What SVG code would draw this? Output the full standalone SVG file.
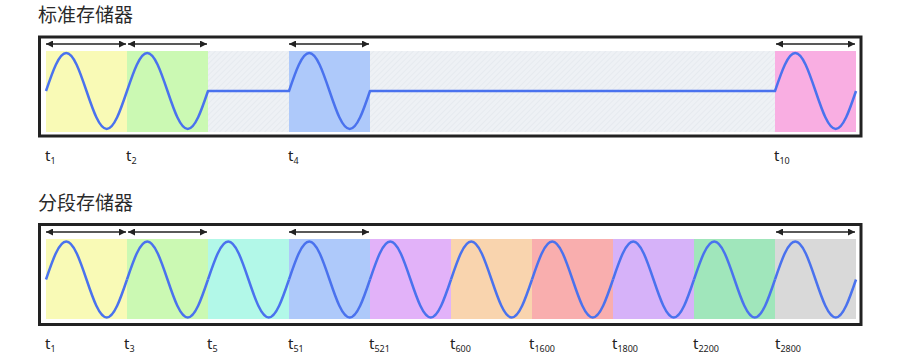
<svg xmlns="http://www.w3.org/2000/svg" width="897" height="359" viewBox="0 0 897 359">
<defs>
<pattern id="hatch" width="4" height="4" patternUnits="userSpaceOnUse" patternTransform="rotate(45)">
<rect width="4" height="4" fill="#eef1f5"/>
<line x1="0" y1="0" x2="0" y2="4" stroke="#e2e6ec" stroke-width="1.2"/>
</pattern>
<marker id="ah" viewBox="0 0 10 10" refX="10" refY="5" markerWidth="7" markerHeight="7" markerUnits="userSpaceOnUse" orient="auto-start-reverse">
<path d="M0,0 L10,5 L0,10 Z" fill="#222"/>
</marker>
<path id="per" d="M0,0 c6.604,-19.47 12.922,-38 20.25,-38 c7.328,0 13.646,18.53 20.25,38 c6.604,19.47 12.922,38 20.25,38 c7.328,0 13.646,-18.53 20.25,-38"/>
</defs>
<style>
.title{font-family:"Noto Sans CJK SC","Noto Sans",sans-serif;font-size:19px;fill:#2a2a2a}
.lbl{font-family:"Noto Sans","Open Sans",sans-serif;font-size:15px;fill:#222}
.sub{font-size:9px}
.frame{fill:none;stroke:#222;stroke-width:3}
.wave{fill:none;stroke:#4a72ee;stroke-width:2.5;stroke-linejoin:round}
.arr{stroke:#222;stroke-width:1.3;marker-start:url(#ah);marker-end:url(#ah)}
</style>

<g id="standard">
<text class="title" x="38" y="22">标准存储器</text>
<rect class="frame" x="39.5" y="37" width="821.5" height="99"/>
<g id="std-segments">
<rect x="46" y="51" width="81" height="81" fill="#f9fab6"/>
<rect x="127" y="51" width="81" height="81" fill="#cbf9b3"/>
<rect x="208" y="51" width="81" height="81" fill="url(#hatch)"/>
<rect x="289" y="51" width="81" height="81" fill="#aec9fa"/>
<rect x="370" y="51" width="405" height="81" fill="url(#hatch)"/>
<rect x="775" y="51" width="81" height="81" fill="#f9aee2"/>
</g>
<path class="wave" d="M46,91 c6.604,-19.47 12.922,-38 20.25,-38 c7.328,0 13.646,18.53 20.25,38 c6.604,19.47 12.922,38 20.25,38 c7.328,0 13.646,-18.53 20.25,-38 c6.604,-19.47 12.922,-38 20.25,-38 c7.328,0 13.646,18.53 20.25,38 c6.604,19.47 12.922,38 20.25,38 c7.328,0 13.646,-18.53 20.25,-38 L289,91 c6.604,-19.47 12.922,-38 20.25,-38 c7.328,0 13.646,18.53 20.25,38 c6.604,19.47 12.922,38 20.25,38 c7.328,0 13.646,-18.53 20.25,-38 L775,91 c6.604,-19.47 12.922,-38 20.25,-38 c7.328,0 13.646,18.53 20.25,38 c6.604,19.47 12.922,38 20.25,38 c7.328,0 13.646,-18.53 20.25,-38"/>
<g id="std-labels">
<text class="lbl" x="45" y="161">t<tspan class="sub" dy="3">1</tspan></text>
<text class="lbl" x="126" y="161">t<tspan class="sub" dy="3">2</tspan></text>
<text class="lbl" x="288" y="161">t<tspan class="sub" dy="3">4</tspan></text>
<text class="lbl" x="774" y="161">t<tspan class="sub" dy="3">10</tspan></text>
</g>
</g>

<g id="segmented">
<text class="title" x="38" y="210">分段存储器</text>
<rect class="frame" x="39.5" y="224.5" width="821.5" height="100"/>
<g id="seg-segments">
<rect x="46" y="239" width="81" height="80" fill="#f9fab6"/>
<rect x="127" y="239" width="81" height="80" fill="#cbf9b3"/>
<rect x="208" y="239" width="81" height="80" fill="#b2f8e8"/>
<rect x="289" y="239" width="81" height="80" fill="#aec9fa"/>
<rect x="370" y="239" width="81" height="80" fill="#e2b2f9"/>
<rect x="451" y="239" width="81" height="80" fill="#f9d4ae"/>
<rect x="532" y="239" width="81" height="80" fill="#f9aeae"/>
<rect x="613" y="239" width="81" height="80" fill="#d6b2f9"/>
<rect x="694" y="239" width="81" height="80" fill="#a0e6bb"/>
<rect x="775" y="239" width="81" height="80" fill="#d9d9d9"/>
</g>
<g class="wave">
<use href="#per" x="46" y="279.5"/>
<use href="#per" x="127" y="279.5"/>
<use href="#per" x="208" y="279.5"/>
<use href="#per" x="289" y="279.5"/>
<use href="#per" x="370" y="279.5"/>
<use href="#per" x="451" y="279.5"/>
<use href="#per" x="532" y="279.5"/>
<use href="#per" x="613" y="279.5"/>
<use href="#per" x="694" y="279.5"/>
<use href="#per" x="775" y="279.5"/>
</g>
<g id="seg-labels">
<text class="lbl" x="45" y="349">t<tspan class="sub" dy="3">1</tspan></text>
<text class="lbl" x="124" y="349">t<tspan class="sub" dy="3">3</tspan></text>
<text class="lbl" x="207" y="349">t<tspan class="sub" dy="3">5</tspan></text>
<text class="lbl" x="288" y="349">t<tspan class="sub" dy="3">51</tspan></text>
<text class="lbl" x="369" y="349">t<tspan class="sub" dy="3">521</tspan></text>
<text class="lbl" x="450" y="349">t<tspan class="sub" dy="3">600</tspan></text>
<text class="lbl" x="529" y="349">t<tspan class="sub" dy="3">1600</tspan></text>
<text class="lbl" x="612" y="349">t<tspan class="sub" dy="3">1800</tspan></text>
<text class="lbl" x="693" y="349">t<tspan class="sub" dy="3">2200</tspan></text>
<text class="lbl" x="775" y="349">t<tspan class="sub" dy="3">2800</tspan></text>
</g>
</g>

<g id="connectors">
<line class="arr" x1="46" y1="44" x2="126" y2="44"/>
<line class="arr" x1="128" y1="44" x2="207" y2="44"/>
<line class="arr" x1="289" y1="44" x2="369" y2="44"/>
<line class="arr" x1="776" y1="44" x2="855" y2="44"/>
<line class="arr" x1="46" y1="232" x2="126" y2="232"/>
<line class="arr" x1="128" y1="232" x2="207" y2="232"/>
<line class="arr" x1="289" y1="232" x2="369" y2="232"/>
<line class="arr" x1="776" y1="232" x2="855" y2="232"/>
</g>
</svg>
